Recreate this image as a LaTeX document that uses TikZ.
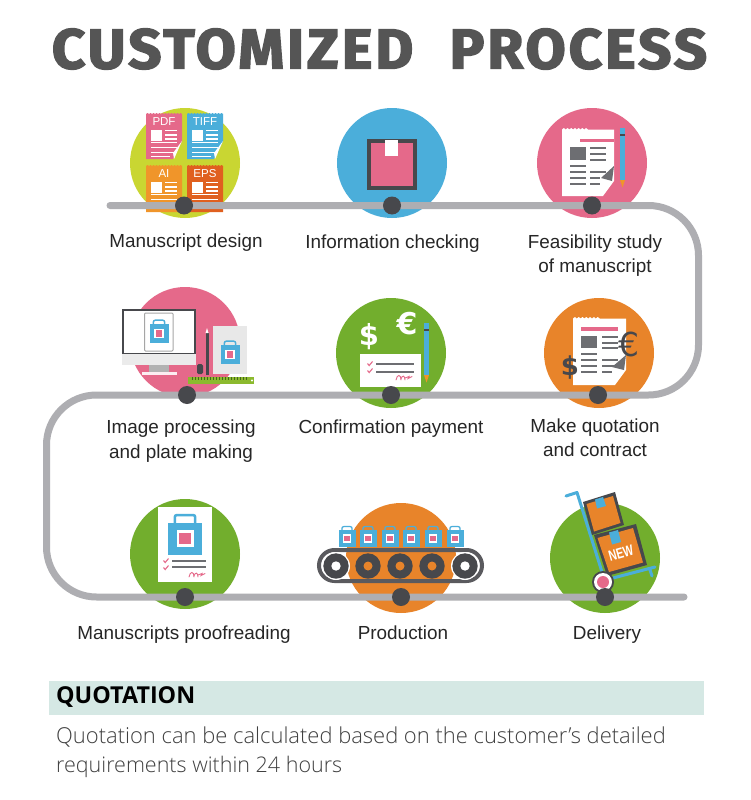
\documentclass[tikz,border=0pt]{standalone}
\usepackage{fontspec}
\setmainfont{Liberation Sans}
\newfontfamily\titlefont{Fira Sans}[UprightFont=* Bold,FakeBold=2.5,LetterSpace=5]
\newfontfamily\quotefont{Open Sans}[UprightFont=* Light,BoldFont=* Bold]
\newfontfamily\djv{DejaVu Sans}
\definecolor{track}{HTML}{AEAEB2}
\definecolor{dotc}{HTML}{47484C}
\definecolor{lime}{HTML}{C9D632}
\definecolor{sky}{HTML}{4BAEDA}
\definecolor{rose}{HTML}{E5698A}
\definecolor{leaf}{HTML}{72AE2D}
\definecolor{tang}{HTML}{E8842A}
\definecolor{burnt}{HTML}{E0601F}
\definecolor{amber}{HTML}{F0952A}
\definecolor{greyd}{HTML}{6D6E72}
\definecolor{band}{HTML}{D5E8E4}
\definecolor{titlec}{HTML}{555555}
\tikzset{
  x=1pt,y=-1pt,
  disc/.style={circle,fill=#1,minimum size=110pt,inner sep=0pt,draw=none},
  stop/.style={circle,fill=dotc,minimum size=18pt,inner sep=0pt},
  lab/.style={font=\fontsize{18.9}{24.5}\selectfont,align=center,text=black!85,inner sep=0pt,text height=14pt,text depth=4pt},
  rule/.style={line width=#1,draw=greyd},
  rule/.default=2pt
}
% small coloured sheet: x, y, colour, label, y where the fold starts (46 = none)
\newcommand{\smallsheet}[5]{%
  \begin{scope}[shift={(#1,#2)}]
    \ifnum#5<46
      \fill[#3] (0,46) -- (0,1)
        \foreach \i in {0,3,...,33}{ -- ++(1.5,-1) -- ++(1.5,1)} -- (36,1) -- (36,#5) -- (27,46) -- cycle;
      \fill[white] (36,#5) -- (27,40) -- (28,46) -- cycle;
    \else
      \fill[#3] (0,47) -- (0,1)
        \foreach \i in {0,3,...,33}{ -- ++(1.5,-1) -- ++(1.5,1)} -- (36,1) -- (36,47) -- cycle;
    \fi
    \node[text=white,font=\fontsize{11.5}{11.5}\selectfont,inner sep=0pt] at (18,9) {#4};
    \fill[white] (4.7,17) rectangle (16.3,27.7);
    \foreach \y in {17.7,22,26}{\fill[white] (19,\y-0.7) rectangle (31.3,\y+0.7);}
    \foreach \y in {29.7,34.3,39.3}{\fill[white] (4.7,\y-0.7) rectangle (31.3,\y+0.7);}
    \fill[white] (4.7,43) rectangle (24,44.4);
  \end{scope}}
% shopping bag centred at x,y with scale
\newcommand{\bag}[3]{%
  \begin{scope}[shift={(#1,#2)},scale=#3]
    \draw[sky,line width=#3*1.5pt,rounded corners=2pt] (-6,-8) -- (-6,-13.5) -- (6,-13.5) -- (6,-8);
    \fill[sky] (-10,-9) rectangle (10,10);
    \fill[white] (-5,-4.5) rectangle (5,5.5);
    \fill[rose] (-3.3,-2.8) rectangle (3.3,3.8);
  \end{scope}}
\newcommand{\pencil}[3]{%
  \fill[sky] (#1,#2) rectangle (#1+5,#3);
  \fill[dotc] (#1,#2+6) rectangle (#1+5,#2+7.5);
  \fill[amber] (#1,#3) -- (#1+5,#3) -- (#1+2.5,#3+7.5) -- cycle;}
\newcommand{\signature}[2]{%
  \draw[rose,line width=0.9pt,line cap=round] (#1,#2+5) .. controls (#1+1,#2-1) and (#1+5,#2-1) .. (#1+5,#2+5)
    (#1+5,#2+4) .. controls (#1+6,#2) and (#1+9,#2) .. (#1+9,#2+5) (#1+9,#2+3) -- (#1+13,#2+1.5) -- (#1+12,#2+3.5) -- (#1+16,#2+1.5);}
\newcommand{\tick}[2]{%
  \draw[rose,line width=1.1pt] (#1-2.5,#2-0.5) -- (#1-0.8,#2+1.5) -- (#1+2.5,#2-2.5);}
\begin{document}
\begin{tikzpicture}
\useasboundingbox (0,0) rectangle (750,800);
\fill[white] (0,0) rectangle (750,800);
% title
\node[text=titlec,inner sep=0pt,anchor=center] (title) at (379.5,49)
  {\resizebox{655pt}{40pt}{\titlefont CUSTOMIZED\hspace{0.62em}PROCESS}};
% discs
\node[disc=lime] (c1) at (185,163) {};
\node[disc=sky]  (c2) at (392,163) {};
\node[disc=rose] (c3) at (592,163) {};
\node[disc=rose] (c4) at (185,342) {};
\node[disc=leaf] (c5) at (391,353) {};
\node[disc=tang] (c6) at (599,353) {};
\node[disc=leaf] (c7) at (185,554) {};
\node[disc=tang] (c8) at (401,558) {};
\node[disc=leaf] (c9) at (605,558) {};
% ---------- icon 1
\smallsheet{146}{113}{rose}{PDF}{28}
\smallsheet{187}{113}{sky}{TIFF}{28}
\smallsheet{146}{165}{amber}{AI}{46}
\smallsheet{187}{165}{burnt}{EPS}{46}
% ---------- icon 2
\fill[dotc] (367,139) rectangle (417,190);
\fill[rose] (371,143) rectangle (413,186);
\fill[white] (385,140) rectangle (398,156);
% ---------- icon 3
\begin{scope}[shift={(562,128)}]
  \fill[white] (0,68) -- (0,1.5) \foreach \i in {1,...,7}{ -- ++(1.85,-1.5) -- ++(1.85,1.5)} -- (52,1.5) -- (52,53) -- (41,68) -- cycle;
  \fill[greyd] (52,38) -- (39,50) -- (50,53) -- cycle;
  \fill[rose] (18,10.5) rectangle (51.5,14);
  \fill[greyd] (8,19) rectangle (24,32);
  \foreach \y in {19.5,25.5,31.5}{\draw[rule] (28,\y) -- (44,\y);}
  \foreach \y in {37.5,43.5,49.5,55.5}{\draw[rule] (8,\y) -- (24,\y);}
  \draw[rule] (28,43.5) -- (44,43.5);
  \draw[rule] (28,49.5) -- (38,49.5);
  \draw[rule] (28,55.5) -- (38,55.5);
\end{scope}
\pencil{620}{128}{180}
% ---------- icon 4
\fill[dotc] (122,309) rectangle (196,354);
\fill[white] (124,311) rectangle (194,353);
\fill[white] (144,313) rectangle (173,351);
\draw[black!35,line width=1pt,rounded corners=1pt] (144.5,313) rectangle (173,351);
\bag{159}{333}{0.95}
\fill[black!8] (122,354) rectangle (196,365);
\fill[black!30] (149,365) rectangle (169,372);
\fill[white!88!rose] (142,372) rectangle (177,375);
\fill[black!9] (213,326) rectangle (247,374);
\bag{230}{354}{0.95}
\fill[dotc,rounded corners=1.5pt] (197,364) rectangle (203,374);
\fill[dotc] (205.5,333) rectangle (208.5,375);
\fill[white] (205.5,333) -- (208.5,333) -- (207,328) -- cycle;
\fill[leaf!70!lime] (188,377) rectangle (254,384);
\foreach \x in {192,195,...,247}{\draw[leaf!60!black,line width=0.5pt] (\x,377) -- (\x,379.5);}
\fill[white] (252,380.5) circle[radius=1.2];
% ---------- icon 5
\node[text=white,font=\djv\bfseries\fontsize{29}{29}\selectfont,inner sep=0pt] (dol5) at (369,337) {\$};
\node[text=white,font=\djv\bfseries\fontsize{30}{30}\selectfont,inner sep=0pt] (eur5) at (407,324) {€};
\fill[white] (360,354) rectangle (421,387);
\tick{370}{364}\tick{370}{371}
\draw[rule] (376,364) -- (414,364);
\draw[rule] (376,372) -- (414,372);
\signature{396}{375}
\pencil{424}{323}{375}
% ---------- icon 6
\begin{scope}[shift={(573,317)}]
  \fill[white] (0,68) -- (0,1.5) \foreach \i in {1,...,7}{ -- ++(1.9,-1.5) -- ++(1.9,1.5)} -- (53,1.5) -- (53,53) -- (42,68) -- cycle;
  \fill[greyd] (53,38) -- (39,50) -- (51,53) -- cycle;
  \fill[rose] (8,10) rectangle (45,14);
  \fill[greyd] (8,19) rectangle (24,31);
  \foreach \y in {20,25.5,31}{\draw[rule] (29,\y) -- (45,\y);}
  \foreach \y in {37,43,49,55}{\draw[rule] (8,\y) -- (24,\y);}
  \foreach \y in {43,49}{\draw[rule] (29,\y) -- (45,\y);}
  \draw[rule] (29,55) -- (39,55);
\end{scope}
\node[text=dotc,font=\djv\fontsize{33}{33}\selectfont,inner sep=0pt] (eur6) at (629,344) {€};
\node[text=dotc,font=\djv\bfseries\fontsize{26}{26}\selectfont,inner sep=0pt] (dol6) at (570,368) {\$};
% ---------- icon 7
\fill[white] (158,507) rectangle (212,582);
\bag{185}{538}{1.7}
\tick{166}{561}\tick{166}{568}
\draw[rule] (172,561) -- (206,561);
\draw[rule] (172,567) -- (206,567);
\signature{189}{572}
% ---------- icon 8
\foreach \x in {347,368,390,411,433,455}{\bag{\x}{538}{0.85}}
\draw[dotc!90!white,line width=4pt,rounded corners=15.5pt] (319,550) rectangle (482,581);
\foreach \x in {336,465}{\fill[white] (\x,566) circle[radius=14];}
\foreach \x in {336,368,400,432,465}{\fill[dotc] (\x,566) circle[radius=12.7];}
\foreach \x in {368,400,432}{\fill[tang] (\x,566) circle[radius=4.5];}
\foreach \x in {336,465}{\fill[white] (\x,566) circle[radius=4.7];}
% ---------- icon 9
\draw[sky,line width=3pt,line cap=round,line join=round] (566,496) -- (577,492.5) -- (602,572);
\draw[sky,line width=3pt,line cap=round] (613,578) -- (655,567) (650,570) -- (652,576);
\fill[dotc] (583,502) -- (615,492) -- (624,525) -- (592,535) -- cycle;
\fill[tang] (586.5,504) -- (613,496) -- (620.5,523) -- (594,531.5) -- cycle;
\fill[sky] (595,499.5) -- (603,497) -- (606,506) -- (597,508.5) -- cycle;
\fill[dotc] (594,535) -- (636,524) -- (647,565) -- (607,576) -- cycle;
\fill[tang] (597.5,538) -- (633,528) -- (643,562.5) -- (609,572) -- cycle;
\fill[sky] (609,532.5) -- (618,530) -- (621,542) -- (612,544.5) -- cycle;
\node[text=white,font=\bfseries\fontsize{15}{15}\selectfont,rotate=16,inner sep=0pt] (newt) at (621,553) {\scalebox{.72}[1]{NEW}};
\fill[dotc] (603,582) circle[radius=11];
\fill[white] (603,582) circle[radius=9];
\fill[rose] (603,582) circle[radius=6];
% ---------- track and stops
\coordinate (t0) at (110,205.5);
\coordinate (t1) at (684,597);
\draw[track,line width=7pt,line cap=round,rounded corners=50pt]
  (t0) -- (698.5,205.5) -- (698.5,395) -- (46.5,395) -- (46.5,597) -- (t1);
\node[stop] (s1) at (184,205.5) {};
\node[stop] (s2) at (392,205.5) {};
\node[stop] (s3) at (592,205.5) {};
\node[stop] (s4) at (187,395) {};
\node[stop] (s5) at (391,395) {};
\node[stop] (s6) at (598,395) {};
\node[stop] (s7) at (185,597) {};
\node[stop] (s8) at (401,597) {};
\node[stop] (s9) at (605,597) {};
% labels
\node[lab] (l1) at (186,242) {Manuscript design};
\node[lab] (l2) at (392.5,243) {Information checking};
\node[lab] (l3) at (595,267.5) {Feasibility study\\of manuscript};
\node[lab] (l4) at (181,453) {Image processing\\and plate making};
\node[lab] (l5) at (391,428) {Confirmation payment};
\node[lab] (l6) at (595,451.5) {Make quotation\\and contract};
\node[lab] (l7) at (184,634) {Manuscripts proofreading};
\node[lab] (l8) at (403,634) {Production};
\node[lab] (l9) at (607,634) {Delivery};
% quotation
\fill[band] (49,681) rectangle (704,715);
\node[anchor=west,inner sep=0pt,font=\quotefont\bfseries\fontsize{23.3}{23.3}\selectfont,text=black] (q) at (56,697.5) {QUOTATION};
\node[anchor=west,inner sep=0pt,font=\quotefont\fontsize{21.95}{21.95}\selectfont,text=black!75] (q1) at (56,737) {Quotation can be calculated based on the customer’s detailed};
\node[anchor=west,inner sep=0pt,font=\quotefont\fontsize{21.5}{21.5}\selectfont,text=black!75] (q2) at (56,767) {requirements within 24 hours};
\end{tikzpicture}
\end{document}
